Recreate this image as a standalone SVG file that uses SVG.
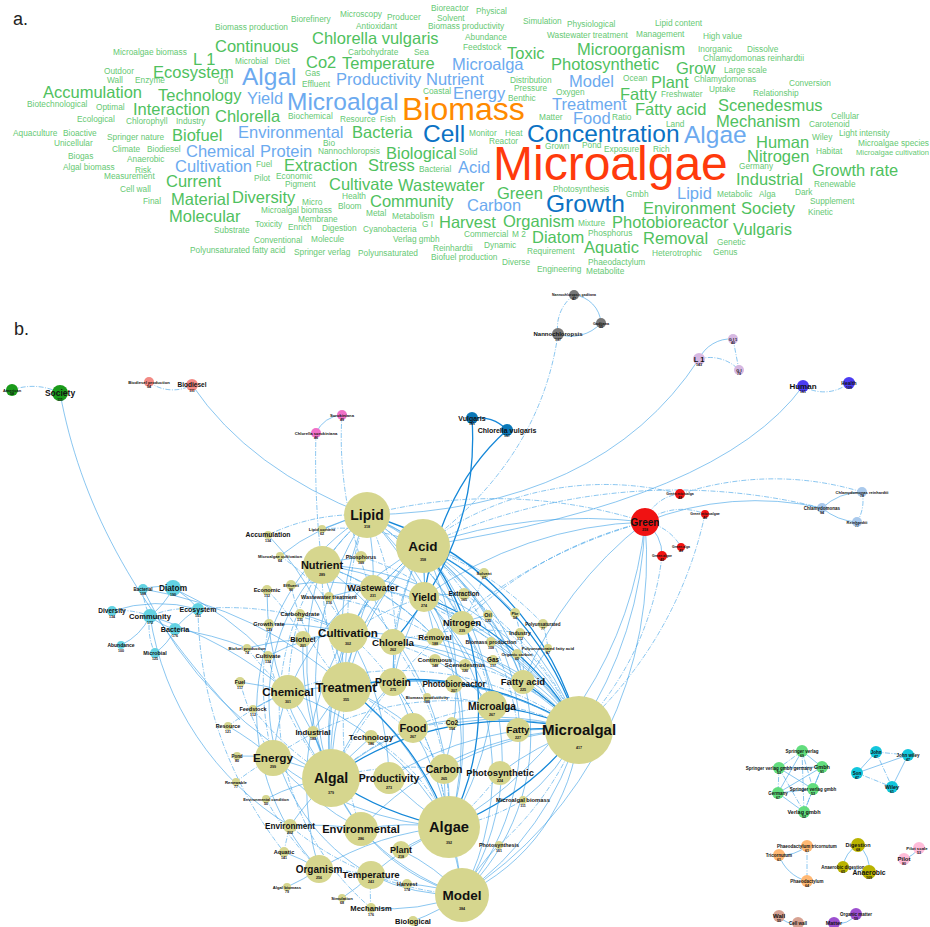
<svg xmlns="http://www.w3.org/2000/svg" width="930" height="927" viewBox="0 0 930 927">
<style>
text{font-family:"Liberation Sans",Arial,sans-serif}
.wc .s{font-size:8.3px;fill:#66c973}
.wc .m{font-size:16.5px;fill:#4fc15e}
.wc .mb{font-size:16.5px;fill:#6caaef}
.wc .lb{font-size:24.5px;fill:#6caaef}
.wc .db{font-size:24.5px;fill:#0b72c4}
.lab{font-size:18px;fill:#222}
.e{fill:none;stroke:#3a9fe6;stroke-width:.7;opacity:.85}
.d{fill:none;stroke:#3a9fe6;stroke-width:.7;stroke-dasharray:5 1.5 1 1.5;opacity:.85}
.t{fill:none;stroke:#1487d8;stroke-width:1.3}
.nodes text{font-weight:bold;fill:#111;text-anchor:middle}
.nodes .num{font-size:3.6px}
.ol{fill:#d6d68e}
.cy{fill:#63d2e2}
</style>
<rect width="930" height="927" fill="#fff"/>
<text class="lab" x="13" y="25">a.</text>
<text class="lab" x="14" y="335">b.</text>
<g class="wc" id="wordcloud">
<text class="s" x="215" y="30">Biomass production</text>
<text class="s" x="291" y="22">Biorefinery</text>
<text class="s" x="340" y="17">Microscopy</text>
<text class="s" x="387" y="20">Producer</text>
<text class="s" x="431" y="11">Bioreactor</text>
<text class="s" x="437" y="21">Solvent</text>
<text class="s" x="356" y="29">Antioxidant</text>
<text class="s" x="428" y="29">Biomass productivity</text>
<text class="s" x="476" y="14">Physical</text>
<text class="s" x="523" y="24">Simulation</text>
<text class="s" x="567" y="27">Physiological</text>
<text class="s" x="655" y="26">Lipid content</text>
<text class="s" x="465" y="40">Abundance</text>
<text class="s" x="547" y="38">Wastewater treatment</text>
<text class="s" x="636" y="37">Management</text>
<text class="s" x="703" y="39">High value</text>
<text class="s" x="463" y="50">Feedstock</text>
<text class="s" x="113" y="55">Microalgae biomass</text>
<text class="s" x="348" y="55">Carbohydrate</text>
<text class="s" x="414" y="55">Sea</text>
<text class="s" x="698" y="52">Inorganic</text>
<text class="s" x="747" y="52">Dissolve</text>
<text class="s" x="703" y="61">Chlamydomonas reinhardtii</text>
<text class="s" x="235" y="64">Microbial</text>
<text class="s" x="275" y="64">Diet</text>
<text class="s" x="104" y="74">Outdoor</text>
<text class="s" x="305" y="76">Gas</text>
<text class="s" x="724" y="73">Large scale</text>
<text class="s" x="107" y="83">Wall</text>
<text class="s" x="135" y="83">Enzyme</text>
<text class="s" x="218" y="84">Oil</text>
<text class="s" x="302" y="87">Effluent</text>
<text class="s" x="510" y="83">Distribution</text>
<text class="s" x="623" y="81">Ocean</text>
<text class="s" x="694" y="82">Chlamydomonas</text>
<text class="s" x="789" y="86">Conversion</text>
<text class="s" x="423" y="94">Coastal</text>
<text class="s" x="514" y="91">Pressure</text>
<text class="s" x="556" y="95">Oxygen</text>
<text class="s" x="661" y="97">Freshwater</text>
<text class="s" x="709" y="92">Uptake</text>
<text class="s" x="753" y="96">Relationship</text>
<text class="s" x="508" y="101">Benthic</text>
<text class="s" x="27" y="107">Biotechnological</text>
<text class="s" x="96" y="110">Optimal</text>
<text class="s" x="288" y="119">Biochemical</text>
<text class="s" x="340" y="122">Resource</text>
<text class="s" x="380" y="122">Fish</text>
<text class="s" x="539" y="120">Matter</text>
<text class="s" x="612" y="120">Ratio</text>
<text class="s" x="831" y="119">Cellular</text>
<text class="s" x="77" y="122">Ecological</text>
<text class="s" x="126" y="124">Chlorophyll</text>
<text class="s" x="176" y="124">Industry</text>
<text class="s" x="666" y="127">Land</text>
<text class="s" x="809" y="127">Carotenoid</text>
<text class="s" x="469" y="136">Monitor</text>
<text class="s" x="505" y="136">Heat</text>
<text class="s" x="13" y="136">Aquaculture</text>
<text class="s" x="63" y="136">Bioactive</text>
<text class="s" x="839" y="136">Light intensity</text>
<text class="s" x="107" y="140">Springer nature</text>
<text class="s" x="812" y="140">Wiley</text>
<text class="s" x="489" y="144">Reactor</text>
<text class="s" x="54" y="146">Unicellular</text>
<text class="s" x="858" y="146">Microalgae species</text>
<text class="s" x="323" y="146">Bio</text>
<text class="s" x="112" y="152">Climate</text>
<text class="s" x="147" y="152">Biodiesel</text>
<text class="s" x="545" y="149">Grown</text>
<text class="s" x="582" y="148">Pond</text>
<text class="s" x="604" y="152">Exposure</text>
<text class="s" x="653" y="152">Rich</text>
<text class="s" x="459" y="155">Solid</text>
<text class="s" x="816" y="154">Habitat</text>
<text class="s" x="856" y="155" style="font-size:7.6px">Microalgae cultivation</text>
<text class="s" x="318" y="154">Nannochloropsis</text>
<text class="s" x="68" y="159">Biogas</text>
<text class="s" x="127" y="162">Anaerobic</text>
<text class="s" x="739" y="169">Germany</text>
<text class="s" x="63" y="170">Algal biomass</text>
<text class="s" x="135" y="173">Risk</text>
<text class="s" x="256" y="167">Fuel</text>
<text class="s" x="419" y="172">Bacterial</text>
<text class="s" x="104" y="179">Measurement</text>
<text class="s" x="254" y="181">Pilot</text>
<text class="s" x="276" y="179">Economic</text>
<text class="s" x="285" y="187">Pigment</text>
<text class="s" x="814" y="187">Renewable</text>
<text class="s" x="553" y="192">Photosynthesis</text>
<text class="s" x="120" y="192">Cell wall</text>
<text class="s" x="342" y="199">Health</text>
<text class="s" x="626" y="197">Gmbh</text>
<text class="s" x="717" y="197">Metabolic</text>
<text class="s" x="759" y="197">Alga</text>
<text class="s" x="795" y="195">Dark</text>
<text class="s" x="810" y="204">Supplement</text>
<text class="s" x="143" y="204">Final</text>
<text class="s" x="302" y="205">Micro</text>
<text class="s" x="338" y="209">Bloom</text>
<text class="s" x="261" y="213">Microalgal biomass</text>
<text class="s" x="366" y="216">Metal</text>
<text class="s" x="392" y="219">Metabolism</text>
<text class="s" x="808" y="215">Kinetic</text>
<text class="s" x="298" y="222">Membrane</text>
<text class="s" x="422" y="227">G I</text>
<text class="s" x="578" y="226">Mixture</text>
<text class="s" x="255" y="227">Toxicity</text>
<text class="s" x="288" y="230">Enrich</text>
<text class="s" x="322" y="231">Digestion</text>
<text class="s" x="363" y="232">Cyanobacteria</text>
<text class="s" x="214" y="233">Substrate</text>
<text class="s" x="464" y="237">Commercial</text>
<text class="s" x="512" y="237">M 2</text>
<text class="s" x="588" y="236">Phosphorus</text>
<text class="s" x="254" y="243">Conventional</text>
<text class="s" x="311" y="242">Molecule</text>
<text class="s" x="393" y="242">Verlag gmbh</text>
<text class="s" x="717" y="245">Genetic</text>
<text class="s" x="484" y="248">Dynamic</text>
<text class="s" x="433" y="251">Reinhardtii</text>
<text class="s" x="527" y="254">Requirement</text>
<text class="s" x="190" y="253">Polyunsaturated fatty acid</text>
<text class="s" x="294" y="255">Springer verlag</text>
<text class="s" x="358" y="256">Polyunsaturated</text>
<text class="s" x="652" y="256">Heterotrophic</text>
<text class="s" x="713" y="255">Genus</text>
<text class="s" x="431" y="260">Biofuel production</text>
<text class="s" x="502" y="265">Diverse</text>
<text class="s" x="588" y="265">Phaeodactylum</text>
<text class="s" x="537" y="272">Engineering</text>
<text class="s" x="586" y="274">Metabolite</text>
<text class="m" x="312" y="44">Chlorella vulgaris</text>
<text class="m" x="215" y="52">Continuous</text>
<text class="m" x="193" y="65">L 1</text>
<text class="m" x="306" y="68">Co2</text>
<text class="m" x="342" y="69">Temperature</text>
<text class="m" x="153" y="78">Ecosystem</text>
<text class="m" x="43" y="98">Accumulation</text>
<text class="m" x="158" y="101">Technology</text>
<text class="m" x="133" y="115">Interaction</text>
<text class="m" x="215" y="122">Chlorella</text>
<text class="m" x="172" y="141">Biofuel</text>
<text class="m" x="352" y="138">Bacteria</text>
<text class="m" x="386" y="159">Biological</text>
<text class="m" x="284" y="171">Extraction</text>
<text class="m" x="368" y="171">Stress</text>
<text class="m" x="166" y="187">Current</text>
<text class="m" x="329" y="190">Cultivate</text>
<text class="m" x="398" y="191">Wastewater</text>
<text class="m" x="171" y="205">Material</text>
<text class="m" x="232" y="203">Diversity</text>
<text class="m" x="370" y="207">Community</text>
<text class="m" x="169" y="222">Molecular</text>
<text class="m" x="439" y="228">Harvest</text>
<text class="m" x="507" y="59">Toxic</text>
<text class="m" x="577" y="55">Microorganism</text>
<text class="m" x="551" y="70">Photosynthetic</text>
<text class="m" x="676" y="74">Grow</text>
<text class="m" x="651" y="88">Plant</text>
<text class="m" x="620" y="100">Fatty</text>
<text class="m" x="635" y="115">Fatty acid</text>
<text class="m" x="718" y="111">Scenedesmus</text>
<text class="m" x="716" y="127">Mechanism</text>
<text class="m" x="756" y="148">Human</text>
<text class="m" x="747" y="162">Nitrogen</text>
<text class="m" x="812" y="176">Growth rate</text>
<text class="m" x="736" y="185">Industrial</text>
<text class="m" x="497" y="199">Green</text>
<text class="m" x="643" y="214">Environment</text>
<text class="m" x="741" y="214">Society</text>
<text class="m" x="503" y="227">Organism</text>
<text class="m" x="612" y="228">Photobioreactor</text>
<text class="m" x="733" y="235">Vulgaris</text>
<text class="m" x="532" y="243">Diatom</text>
<text class="m" x="643" y="244">Removal</text>
<text class="m" x="584" y="253">Aquatic</text>
<text class="mb" x="452" y="70">Microalga</text>
<text class="mb" x="426" y="85">Nutrient</text>
<text class="mb" x="336" y="85">Productivity</text>
<text class="mb" x="569" y="87">Model</text>
<text class="mb" x="453" y="99">Energy</text>
<text class="mb" x="247" y="104">Yield</text>
<text class="mb" x="552" y="110">Treatment</text>
<text class="mb" x="573" y="124">Food</text>
<text class="mb" x="238" y="138">Environmental</text>
<text class="mb" x="186" y="157">Chemical</text>
<text class="mb" x="260" y="157">Protein</text>
<text class="mb" x="175" y="172">Cultivation</text>
<text class="mb" x="458" y="173">Acid</text>
<text class="mb" x="467" y="211">Carbon</text>
<text class="mb" x="677" y="199">Lipid</text>
<text class="lb" x="242" y="85">Algal</text>
<text class="lb" x="287" y="110">Microalgal</text>
<text class="lb" x="684" y="143">Algae</text>
<text class="db" x="423" y="142">Cell</text>
<text class="db" x="527" y="142">Concentration</text>
<text class="db" x="546" y="212">Growth</text>
<text x="402" y="120" font-size="32" fill="#ff8a00">Biomass</text>
<text x="493" y="180" font-size="48" fill="#ff3a0c">Microalgae</text>
</g>
<g id="connectors">
<path class="d" d="M12 390 A60 60 0 0 1 60 393"/>
<path class="e" d="M60 393 C80 500 130 600 240 720"/>
<path class="d" d="M149 382 A40 40 0 0 0 192 385"/>
<path class="e" d="M192 385 Q250 470 367 515"/>
<path class="e" d="M316 433 A30 30 0 0 1 342 415"/>
<path class="d" d="M316 433 Q314 500 322 565"/>
<path class="d" d="M342 415 Q335 520 393 642"/>
<path class="t" d="M472 418 A40 40 0 0 1 507 430"/>
<path class="t" d="M472 418 Q480 540 393 642"/>
<path class="t" d="M507 430 Q440 490 424 597"/>
<path class="e" d="M574 295 A30 30 0 0 1 601 323"/>
<path class="d" d="M574 295 A40 40 0 0 0 558 334"/>
<path class="e" d="M558 334 A40 40 0 0 0 601 323"/>
<path class="d" d="M558 334 Q540 460 423 546"/>
<path class="e" d="M699 359 A35 35 0 0 1 733 339"/>
<path class="d" d="M699 359 A40 40 0 0 1 739 370"/>
<path class="d" d="M733 339 L739 370"/>
<path class="e" d="M699 359 Q600 510 367 515"/>
<path class="d" d="M803 386 A40 40 0 0 0 849 383"/>
<path class="e" d="M803 386 Q720 500 423 546"/>
<path class="d" d="M645 522 A40 40 0 0 1 680 494"/>
<path class="d" d="M645 522 A60 60 0 0 1 705 514"/>
<path class="e" d="M645 522 A40 40 0 0 1 662 556"/>
<path class="d" d="M645 522 A50 50 0 0 1 681 547"/>
<path class="d" d="M680 494 A300 300 0 0 0 423 546"/>
<path class="d" d="M705 514 A400 400 0 0 1 579 730"/>
<path class="d" d="M662 556 A300 300 0 0 1 579 730"/>
<path class="e" d="M822 508 A300 300 0 0 0 645 522"/>
<path class="e" d="M822 508 A60 60 0 0 1 862 492"/>
<path class="e" d="M822 508 A60 60 0 0 0 857 522"/>
<path class="d" d="M862 492 A40 40 0 0 1 857 522"/>
<path class="d" d="M822 508 A600 600 0 0 0 423 546"/>
<path class="d" d="M862 492 A300 300 0 0 0 680 494"/>
<path class="e" d="M645 522 A500 500 0 0 0 423 546"/>
<path class="d" d="M645 522 A500 500 0 0 0 367 515"/>
<path class="e" d="M645 522 A400 400 0 0 0 424 597"/>
<path class="e" d="M645 522 A400 400 0 0 1 579 730"/>
<path class="e" d="M645 522 A400 400 0 0 1 449 827"/>
<path class="e" d="M645 522 A400 400 0 0 1 462 895"/>
<path class="e" d="M645 522 A400 400 0 0 0 523 682"/>
<path class="d" d="M645 522 A400 400 0 0 0 462 623"/>
<path class="d" d="M645 522 A500 500 0 0 0 331 778"/>
<path class="e" d="M367 515 A300 300 0 0 1 423 546"/>
<path class="e" d="M367 515 A300 300 0 0 0 322 565"/>
<path class="e" d="M367 515 A300 300 0 0 1 373 588"/>
<path class="e" d="M367 515 A300 300 0 0 1 424 597"/>
<path class="d" d="M367 515 A300 300 0 0 0 348 633"/>
<path class="e" d="M367 515 A300 300 0 0 0 346 687"/>
<path class="t" d="M367 515 A300 300 0 0 1 579 730"/>
<path class="e" d="M367 515 A300 300 0 0 0 331 778"/>
<path class="e" d="M367 515 A300 300 0 0 1 449 827"/>
<path class="e" d="M367 515 A240 240 0 0 1 462 895"/>
<path class="d" d="M367 515 A300 300 0 0 1 393 682"/>
<path class="e" d="M367 515 A300 300 0 0 1 523 682"/>
<path class="e" d="M367 515 A300 300 0 0 1 462 623"/>
<path class="d" d="M367 515 A300 300 0 0 1 492 706"/>
<path class="e" d="M367 515 A230 230 0 0 0 319 869"/>
<path class="d" d="M367 515 A260 260 0 0 0 371 908"/>
<path class="e" d="M423 546 A300 300 0 0 1 424 597"/>
<path class="t" d="M423 546 A300 300 0 0 1 579 730"/>
<path class="t" d="M423 546 A260 260 0 0 1 449 827"/>
<path class="e" d="M423 546 A220 220 0 0 1 462 895"/>
<path class="e" d="M423 546 A300 300 0 0 0 346 687"/>
<path class="e" d="M423 546 A300 300 0 0 0 331 778"/>
<path class="e" d="M423 546 A300 300 0 0 1 523 682"/>
<path class="d" d="M423 546 A300 300 0 0 1 518 730"/>
<path class="e" d="M423 546 A300 300 0 0 1 492 706"/>
<path class="e" d="M423 546 A300 300 0 0 0 393 682"/>
<path class="d" d="M423 546 A300 300 0 0 0 348 633"/>
<path class="e" d="M423 546 A300 300 0 0 1 462 623"/>
<path class="e" d="M423 546 A300 300 0 0 0 435 637"/>
<path class="e" d="M423 546 A300 300 0 0 1 444 769"/>
<path class="d" d="M423 546 A300 300 0 0 0 393 642"/>
<path class="e" d="M423 546 A300 300 0 0 0 319 869"/>
<path class="e" d="M423 546 A300 300 0 0 0 288 692"/>
<path class="e" d="M322 565 A300 300 0 0 1 373 588"/>
<path class="e" d="M322 565 A300 300 0 0 0 348 633"/>
<path class="d" d="M322 565 A300 300 0 0 0 346 687"/>
<path class="e" d="M322 565 A300 300 0 0 0 331 778"/>
<path class="e" d="M322 565 A300 300 0 0 1 449 827"/>
<path class="e" d="M322 565 A300 300 0 0 1 462 623"/>
<path class="e" d="M322 565 A300 300 0 0 1 579 730"/>
<path class="d" d="M322 565 A300 300 0 0 1 435 637"/>
<path class="e" d="M322 565 A200 200 0 0 0 371 875"/>
<path class="e" d="M373 588 A300 300 0 0 0 346 687"/>
<path class="e" d="M373 588 A300 300 0 0 1 435 637"/>
<path class="d" d="M373 588 A300 300 0 0 1 462 623"/>
<path class="e" d="M373 588 A300 300 0 0 0 331 778"/>
<path class="e" d="M373 588 A300 300 0 0 1 579 730"/>
<path class="t" d="M424 597 A300 300 0 0 1 579 730"/>
<path class="e" d="M424 597 A300 300 0 0 0 393 682"/>
<path class="e" d="M424 597 A300 300 0 0 1 449 827"/>
<path class="d" d="M424 597 A300 300 0 0 0 348 633"/>
<path class="e" d="M424 597 A300 300 0 0 1 492 706"/>
<path class="e" d="M424 597 A260 260 0 0 1 462 895"/>
<path class="e" d="M348 633 A300 300 0 0 0 346 687"/>
<path class="e" d="M348 633 A300 300 0 0 0 331 778"/>
<path class="e" d="M348 633 A300 300 0 0 1 579 730"/>
<path class="d" d="M348 633 A300 300 0 0 1 449 827"/>
<path class="e" d="M348 633 A300 300 0 0 1 389 778"/>
<path class="e" d="M348 633 A300 300 0 0 1 393 642"/>
<path class="e" d="M348 633 A300 300 0 0 0 303 639"/>
<path class="e" d="M393 642 A300 300 0 0 1 579 730"/>
<path class="d" d="M393 642 A300 300 0 0 1 449 827"/>
<path class="e" d="M393 642 A300 300 0 0 1 393 682"/>
<path class="t" d="M346 687 A300 300 0 0 1 579 730"/>
<path class="t" d="M346 687 A300 300 0 0 1 449 827"/>
<path class="e" d="M346 687 A300 300 0 0 0 331 778"/>
<path class="e" d="M346 687 A300 300 0 0 1 462 895"/>
<path class="d" d="M346 687 A300 300 0 0 1 444 769"/>
<path class="e" d="M346 687 A300 300 0 0 1 413 728"/>
<path class="e" d="M346 687 A300 300 0 0 0 288 692"/>
<path class="d" d="M346 687 A300 300 0 0 0 361 829"/>
<path class="e" d="M288 692 A300 300 0 0 1 331 778"/>
<path class="e" d="M288 692 A300 300 0 0 0 273 758"/>
<path class="e" d="M288 692 A300 300 0 0 1 449 827"/>
<path class="d" d="M288 692 A300 300 0 0 1 579 730"/>
<path class="e" d="M393 682 A300 300 0 0 1 579 730"/>
<path class="e" d="M393 682 A300 300 0 0 1 413 728"/>
<path class="d" d="M393 682 A300 300 0 0 1 449 827"/>
<path class="e" d="M393 682 A300 300 0 0 0 331 778"/>
<path class="t" d="M492 706 A300 300 0 0 1 579 730"/>
<path class="e" d="M492 706 A300 300 0 0 1 449 827"/>
<path class="d" d="M492 706 A300 300 0 0 0 331 778"/>
<path class="e" d="M413 728 A300 300 0 0 0 331 778"/>
<path class="e" d="M413 728 A300 300 0 0 1 579 730"/>
<path class="e" d="M413 728 A300 300 0 0 1 449 827"/>
<path class="t" d="M518 730 A300 300 0 0 1 579 730"/>
<path class="t" d="M523 682 A300 300 0 0 1 579 730"/>
<path class="e" d="M273 758 A300 300 0 0 1 331 778"/>
<path class="e" d="M273 758 A300 300 0 0 0 449 827"/>
<path class="d" d="M273 758 A300 300 0 0 1 579 730"/>
<path class="e" d="M273 758 A300 300 0 0 0 361 829"/>
<path class="t" d="M331 778 A300 300 0 0 0 449 827"/>
<path class="t" d="M331 778 A300 300 0 0 1 579 730"/>
<path class="e" d="M331 778 A200 200 0 0 0 462 895"/>
<path class="e" d="M331 778 A300 300 0 0 1 389 778"/>
<path class="e" d="M331 778 A300 300 0 0 0 361 829"/>
<path class="d" d="M331 778 A300 300 0 0 1 444 769"/>
<path class="e" d="M389 778 A300 300 0 0 1 579 730"/>
<path class="e" d="M389 778 A300 300 0 0 0 449 827"/>
<path class="e" d="M444 769 A300 300 0 0 1 579 730"/>
<path class="e" d="M444 769 A300 300 0 0 0 449 827"/>
<path class="e" d="M500 773 A300 300 0 0 1 579 730"/>
<path class="d" d="M500 773 A300 300 0 0 1 449 827"/>
<path class="e" d="M361 829 A300 300 0 0 1 449 827"/>
<path class="e" d="M361 829 A300 300 0 0 1 579 730"/>
<path class="e" d="M361 829 A250 250 0 0 0 462 895"/>
<path class="t" d="M449 827 A300 300 0 0 0 579 730"/>
<path class="e" d="M449 827 A300 300 0 0 1 462 895"/>
<path class="e" d="M462 895 A300 300 0 0 0 579 730"/>
<path class="e" d="M462 895 A200 200 0 0 0 579 730"/>
<path class="e" d="M319 869 A300 300 0 0 1 449 827"/>
<path class="e" d="M371 875 A300 300 0 0 1 449 827"/>
<path class="d" d="M319 869 A300 300 0 0 1 371 875"/>
<path class="e" d="M401 850 A300 300 0 0 1 449 827"/>
<path class="e" d="M371 875 A200 200 0 0 0 462 895"/>
<path class="e" d="M290 826 A300 300 0 0 1 361 829"/>
<path class="d" d="M290 826 A300 300 0 0 0 462 895"/>
<path class="e" d="M290 826 A300 300 0 0 1 331 778"/>
<path class="e" d="M313 732 A300 300 0 0 1 331 778"/>
<path class="e" d="M371 737 A300 300 0 0 0 331 778"/>
<path class="e" d="M452 723 A300 300 0 0 1 579 730"/>
<path class="e" d="M462 623 A300 300 0 0 1 579 730"/>
<path class="e" d="M462 623 A250 250 0 0 1 462 895"/>
<path class="e" d="M435 637 A300 300 0 0 1 579 730"/>
<path class="d" d="M454 684 A300 300 0 0 1 579 730"/>
<path class="e" d="M303 639 A300 300 0 0 0 331 778"/>
<path class="e" d="M322 529 A200 200 0 0 1 367 515"/>
<path class="d" d="M322 529 A200 200 0 0 1 423 546"/>
<path class="d" d="M268 535 A200 200 0 0 1 367 515"/>
<path class="e" d="M268 535 A300 300 0 0 1 346 687"/>
<path class="d" d="M280 556 A200 200 0 0 1 348 633"/>
<path class="e" d="M280 556 A200 200 0 0 1 367 515"/>
<path class="d" d="M361 557 A200 200 0 0 1 462 623"/>
<path class="e" d="M361 557 A200 200 0 0 0 322 565"/>
<path class="e" d="M484 573 A200 200 0 0 0 423 546"/>
<path class="d" d="M484 573 A200 200 0 0 1 462 623"/>
<path class="e" d="M291 585 A200 200 0 0 1 373 588"/>
<path class="d" d="M291 585 A200 200 0 0 0 346 687"/>
<path class="d" d="M267 590 A200 200 0 0 1 303 639"/>
<path class="e" d="M267 590 A300 300 0 0 0 331 778"/>
<path class="e" d="M329 597 A200 200 0 0 1 373 588"/>
<path class="d" d="M329 597 A300 300 0 0 1 435 637"/>
<path class="e" d="M464 594 A200 200 0 0 0 424 597"/>
<path class="d" d="M464 594 A300 300 0 0 1 579 730"/>
<path class="e" d="M300 614 A200 200 0 0 1 348 633"/>
<path class="d" d="M300 614 A300 300 0 0 0 288 692"/>
<path class="e" d="M488 615 A200 200 0 0 0 462 623"/>
<path class="d" d="M488 615 A300 300 0 0 1 579 730"/>
<path class="d" d="M515 613 A200 200 0 0 1 523 682"/>
<path class="e" d="M515 613 A300 300 0 0 0 423 546"/>
<path class="d" d="M543 624 A200 200 0 0 1 548 648"/>
<path class="d" d="M543 624 A300 300 0 0 0 423 546"/>
<path class="e" d="M269 624 A300 300 0 0 1 348 633"/>
<path class="d" d="M269 624 A300 300 0 0 0 273 758"/>
<path class="e" d="M520 633 A300 300 0 0 1 579 730"/>
<path class="d" d="M520 633 A300 300 0 0 0 393 642"/>
<path class="e" d="M491 642 A300 300 0 0 1 579 730"/>
<path class="d" d="M491 642 A300 300 0 0 0 424 597"/>
<path class="e" d="M548 648 A200 200 0 0 1 523 682"/>
<path class="e" d="M247 648 A300 300 0 0 1 303 639"/>
<path class="d" d="M247 648 A300 300 0 0 0 288 692"/>
<path class="d" d="M517 654 A200 200 0 0 1 523 682"/>
<path class="e" d="M268 656 A200 200 0 0 1 348 633"/>
<path class="d" d="M268 656 A300 300 0 0 0 331 778"/>
<path class="e" d="M435 660 A200 200 0 0 1 492 706"/>
<path class="d" d="M435 660 A300 300 0 0 0 348 633"/>
<path class="e" d="M493 660 A200 200 0 0 1 579 730"/>
<path class="d" d="M465 665 A200 200 0 0 1 579 730"/>
<path class="e" d="M465 665 A200 200 0 0 0 393 642"/>
<path class="e" d="M240 682 A300 300 0 0 1 288 692"/>
<path class="d" d="M240 682 A300 300 0 0 0 273 758"/>
<path class="e" d="M454 684 A200 200 0 0 0 393 682"/>
<path class="d" d="M427 697 A200 200 0 0 1 492 706"/>
<path class="e" d="M253 709 A200 200 0 0 1 288 692"/>
<path class="d" d="M253 709 A300 300 0 0 0 331 778"/>
<path class="e" d="M228 726 A300 300 0 0 1 273 758"/>
<path class="d" d="M228 726 A300 300 0 0 1 288 692"/>
<path class="e" d="M313 732 A200 200 0 0 1 346 687"/>
<path class="d" d="M452 723 A200 200 0 0 0 413 728"/>
<path class="d" d="M371 737 A200 200 0 0 1 449 827"/>
<path class="e" d="M237 756 A200 200 0 0 1 273 758"/>
<path class="d" d="M236 782 A200 200 0 0 1 273 758"/>
<path class="e" d="M266 799 A200 200 0 0 1 331 778"/>
<path class="d" d="M266 799 A300 300 0 0 0 319 869"/>
<path class="e" d="M523 800 A200 200 0 0 0 579 730"/>
<path class="d" d="M523 800 A200 200 0 0 1 449 827"/>
<path class="e" d="M499 845 A200 200 0 0 0 462 895"/>
<path class="d" d="M499 845 A300 300 0 0 0 579 730"/>
<path class="e" d="M401 850 A200 200 0 0 1 462 895"/>
<path class="e" d="M284 852 A200 200 0 0 1 319 869"/>
<path class="d" d="M284 852 A300 300 0 0 1 290 826"/>
<path class="e" d="M407 884 A200 200 0 0 1 462 895"/>
<path class="d" d="M407 884 A200 200 0 0 0 371 875"/>
<path class="e" d="M287 887 A200 200 0 0 0 319 869"/>
<path class="e" d="M342 898 A200 200 0 0 0 371 875"/>
<path class="e" d="M371 908 A200 200 0 0 0 462 895"/>
<path class="d" d="M371 908 A200 200 0 0 1 371 875"/>
<path class="e" d="M413 921 A200 200 0 0 0 462 895"/>
<path class="e" d="M143 589 A60 60 0 0 1 173 588"/>
<path class="d" d="M143 589 A60 60 0 0 0 150 616"/>
<path class="e" d="M173 588 A80 80 0 0 1 150 616"/>
<path class="e" d="M173 588 A80 80 0 0 1 198 609"/>
<path class="d" d="M150 616 A100 100 0 0 1 198 609"/>
<path class="e" d="M150 616 A60 60 0 0 0 175 629"/>
<path class="d" d="M112 611 A80 80 0 0 1 150 616"/>
<path class="e" d="M112 611 A150 150 0 0 1 198 609"/>
<path class="e" d="M150 616 A60 60 0 0 1 121 645"/>
<path class="d" d="M150 616 A60 60 0 0 0 155 653"/>
<path class="e" d="M175 629 A60 60 0 0 1 155 653"/>
<path class="e" d="M175 629 A80 80 0 0 1 198 609"/>
<path class="e" d="M143 589 A400 400 0 0 1 346 687"/>
<path class="e" d="M173 588 A300 300 0 0 1 268 656"/>
<path class="d" d="M198 609 A300 300 0 0 1 348 633"/>
<path class="e" d="M150 616 A400 400 0 0 1 288 692"/>
<path class="e" d="M175 629 A300 300 0 0 1 247 648"/>
<path class="d" d="M198 609 A400 400 0 0 0 284 852"/>
<path class="e" d="M150 616 A300 300 0 0 0 290 826"/>
<path class="e" d="M143 589 A400 400 0 0 0 331 778"/>
<path class="d" d="M802 751 L779 768"/><path class="e" d="M802 751 L822 767"/><path class="d" d="M802 751 L813 789"/><path class="e" d="M802 751 L778 793"/><path class="d" d="M802 751 L804 812"/>
<path class="e" d="M779 768 L822 767"/><path class="d" d="M779 768 L778 793"/><path class="e" d="M779 768 L813 789"/><path class="d" d="M779 768 L804 812"/><path class="e" d="M822 767 L813 789"/>
<path class="d" d="M822 767 L804 812"/><path class="e" d="M822 767 L778 793"/><path class="e" d="M813 789 L778 793"/><path class="d" d="M813 789 L804 812"/><path class="e" d="M778 793 L804 812"/>
<path class="d" d="M876 752 L908 755"/><path class="e" d="M876 752 L857 773"/><path class="d" d="M876 752 L892 787"/><path class="e" d="M908 755 L857 773"/><path class="e" d="M908 755 L892 787"/><path class="d" d="M857 773 L892 787"/>
<path class="e" d="M807 846 A40 40 0 0 1 779 855"/><path class="d" d="M807 846 L807 881"/><path class="e" d="M779 855 A40 40 0 0 0 807 881"/>
<path class="e" d="M858 845 A30 30 0 0 0 843 867"/><path class="e" d="M858 845 A30 30 0 0 1 869 872"/><path class="d" d="M843 867 L869 872"/>
<path class="e" d="M904 859 A30 30 0 0 0 919 848"/>
<path class="e" d="M779 916 A20 20 0 0 0 798 923"/>
<path class="e" d="M856 914 A20 20 0 0 1 834 923"/>
</g>
<g class="nodes" id="nodes">
<g id="n-american"><circle cx="12" cy="390" r="6" fill="#1a9a1a"/><text x="12" y="391.5" font-size="4">American</text><text class="num" x="12" y="395">58</text></g>
<g id="n-society"><circle cx="60" cy="393" r="8" fill="#1a9a1a"/><text x="60" y="396" font-size="8.5">Society</text><text class="num" x="60" y="401">111</text></g>
<g id="n-biodiesel-production"><circle cx="149" cy="382" r="5" fill="#f28a84"/><text x="149" y="383.5" font-size="4.2">Biodiesel production</text><text class="num" x="149" y="388">54</text></g>
<g id="n-biodiesel"><circle cx="192" cy="385" r="6" fill="#f28a84"/><text x="192" y="387" font-size="6.5">Biodiesel</text><text class="num" x="192" y="392">111</text></g>
<g id="n-sorokiniana"><circle cx="342" cy="415" r="5" fill="#f070c8"/><text x="342" y="416.5" font-size="4.2">Sorokiniana</text><text class="num" x="342" y="421">49</text></g>
<g id="n-chlorella-sorokiniana"><circle cx="316" cy="433" r="5" fill="#f070c8"/><text x="316" y="434.5" font-size="4.2">Chlorella sorokiniana</text><text class="num" x="316" y="439">46</text></g>
<g id="n-vulgaris"><circle cx="472" cy="418" r="6" fill="#0a78b8"/><text x="472" y="420.5" font-size="7">Vulgaris</text><text class="num" x="472" y="425">161</text></g>
<g id="n-chlorella-vulgaris"><circle cx="507" cy="430" r="6" fill="#0a78b8"/><text x="507" y="432.5" font-size="7">Chlorella vulgaris</text><text class="num" x="507" y="437">157</text></g>
<g id="n-nannochloropsis-gaditana"><circle cx="574" cy="295" r="5" fill="#777"/><text x="574" y="296" font-size="3.5">Nannochloropsis gaditana</text><text class="num" x="574" y="300">47</text></g>
<g id="n-gaditana"><circle cx="601" cy="323" r="5" fill="#777"/><text x="601" y="324.5" font-size="3.8">Gaditana</text><text class="num" x="601" y="328">55</text></g>
<g id="n-nannochloropsis"><circle cx="558" cy="334" r="6" fill="#777"/><text x="558" y="336" font-size="6">Nannochloropsis</text><text class="num" x="558" y="341">137</text></g>
<g id="n-gi1"><circle cx="733" cy="339" r="5" fill="#d6b8e2"/><text x="733" y="340.5" font-size="4">G I 1</text><text class="num" x="733" y="344">40</text></g>
<g id="n-l1"><circle cx="699" cy="359" r="6" fill="#d6b8e2"/><text x="699" y="361.5" font-size="7.5">L 1</text><text class="num" x="699" y="366">143</text></g>
<g id="n-gi"><circle cx="739" cy="370" r="5" fill="#d6b8e2"/><text x="739" y="371.5" font-size="4">G I</text><text class="num" x="739" y="375">79</text></g>
<g id="n-human"><circle cx="803" cy="386" r="6" fill="#4b3cf2"/><text x="803" y="388.5" font-size="8">Human</text><text class="num" x="803" y="393">161</text></g>
<g id="n-health"><circle cx="849" cy="383" r="6" fill="#4b3cf2"/><text x="849" y="385" font-size="5">Health</text><text class="num" x="849" y="389">109</text></g>
<g id="n-green"><circle cx="645" cy="522" r="14" fill="#f01212"/><text x="645" y="525.5" font-size="10">Green</text><text class="num" x="645" y="531">258</text></g>
<g id="n-green-microalga"><circle cx="680" cy="494" r="5" fill="#f01212"/><text x="680" y="495" font-size="3.5">Green microalga</text><text class="num" x="680" y="499">48</text></g>
<g id="n-green-microalgae"><circle cx="705" cy="514" r="4" fill="#f01212"/><text x="705" y="515" font-size="3.5">Green microalgae</text><text class="num" x="705" y="519">46</text></g>
<g id="n-green-algae"><circle cx="662" cy="556" r="5" fill="#f01212"/><text x="662" y="557" font-size="3.5">Green algae</text><text class="num" x="662" y="561">45</text></g>
<g id="n-green-alga"><circle cx="681" cy="547" r="4" fill="#f01212"/><text x="681" y="548" font-size="3.5">Green alga</text><text class="num" x="681" y="552">49</text></g>
<g id="n-chlamydomonas-reinhardtii"><circle cx="862" cy="492" r="5" fill="#a9c9ec"/><text x="862" y="493.5" font-size="4">Chlamydomonas reinhardtii</text><text class="num" x="862" y="497">78</text></g>
<g id="n-chlamydomonas"><circle cx="822" cy="508" r="5" fill="#a9c9ec"/><text x="822" y="509.5" font-size="4.5">Chlamydomonas</text><text class="num" x="822" y="514">94</text></g>
<g id="n-reinhardtii"><circle cx="857" cy="522" r="5" fill="#a9c9ec"/><text x="857" y="523.5" font-size="4">Reinhardtii</text><text class="num" x="857" y="527">77</text></g>
<g id="n-bacterial"><circle class="cy" cx="143" cy="589" r="5"/><text x="143" y="590.5" font-size="4.5">Bacterial</text><text class="num" x="143" y="595">108</text></g>
<g id="n-diatom"><circle class="cy" cx="173" cy="588" r="8"/><text x="173" y="591" font-size="8.3">Diatom</text><text class="num" x="173" y="596">190</text></g>
<g id="n-diversity"><circle class="cy" cx="112" cy="611" r="5"/><text x="112" y="613" font-size="6.5">Diversity</text><text class="num" x="112" y="618">134</text></g>
<g id="n-community"><circle class="cy" cx="150" cy="616" r="7"/><text x="150" y="618.5" font-size="7.6">Community</text><text class="num" x="150" y="624">172</text></g>
<g id="n-ecosystem"><circle class="cy" cx="198" cy="609" r="6"/><text x="198" y="611.5" font-size="7">Ecosystem</text><text class="num" x="198" y="617">151</text></g>
<g id="n-bacteria"><circle class="cy" cx="175" cy="629" r="6"/><text x="175" y="631.5" font-size="7.2">Bacteria</text><text class="num" x="175" y="637">176</text></g>
<g id="n-abundance"><circle class="cy" cx="121" cy="645" r="4"/><text x="121" y="647" font-size="5">Abundance</text><text class="num" x="121" y="652">100</text></g>
<g id="n-microbial"><circle class="cy" cx="155" cy="653" r="5"/><text x="155" y="655" font-size="5.4">Microbial</text><text class="num" x="155" y="660">125</text></g>
<g id="n-lipid"><circle class="ol" cx="367" cy="515" r="23"/><text x="367" y="520" font-size="14">Lipid</text><text class="num" x="367" y="528">318</text></g>
<g id="n-acid"><circle class="ol" cx="423" cy="546" r="27"/><text x="423" y="551" font-size="13.5">Acid</text><text class="num" x="423" y="561">358</text></g>
<g id="n-lipid-content"><circle class="ol" cx="322" cy="529" r="4"/><text x="322" y="530.5" font-size="4.2">Lipid content</text><text class="num" x="322" y="535">62</text></g>
<g id="n-accumulation"><circle class="ol" cx="268" cy="535" r="4"/><text x="268" y="537" font-size="6.8">Accumulation</text><text class="num" x="268" y="542">134</text></g>
<g id="n-microalgae-cultivation"><circle class="ol" cx="280" cy="556" r="4"/><text x="280" y="557.5" font-size="4.2">Microalgae cultivation</text><text class="num" x="280" y="562">64</text></g>
<g id="n-nutrient"><circle class="ol" cx="322" cy="565" r="19"/><text x="322" y="569" font-size="11">Nutrient</text><text class="num" x="322" y="576">289</text></g>
<g id="n-phosphorus"><circle class="ol" cx="361" cy="557" r="6"/><text x="361" y="559" font-size="5.2">Phosphorus</text><text class="num" x="361" y="564">109</text></g>
<g id="n-solvent"><circle class="ol" cx="484" cy="573" r="5"/><text x="484" y="574.5" font-size="4.2">Solvent</text><text class="num" x="484" y="579">67</text></g>
<g id="n-effluent"><circle class="ol" cx="291" cy="585" r="5"/><text x="291" y="586.5" font-size="4.2">Effluent</text><text class="num" x="291" y="591">90</text></g>
<g id="n-economic"><circle class="ol" cx="267" cy="590" r="5"/><text x="267" y="592" font-size="5.6">Economic</text><text class="num" x="267" y="597">112</text></g>
<g id="n-wastewater"><circle class="ol" cx="373" cy="588" r="13"/><text x="373" y="591" font-size="9.3">Wastewater</text><text class="num" x="373" y="597">231</text></g>
<g id="n-wastewater-treatment"><circle class="ol" cx="329" cy="597" r="5"/><text x="329" y="599" font-size="5.4">Wastewater treatment</text><text class="num" x="329" y="604">116</text></g>
<g id="n-yield"><circle class="ol" cx="424" cy="597" r="15"/><text x="424" y="601" font-size="10.7">Yield</text><text class="num" x="424" y="607">274</text></g>
<g id="n-extraction"><circle class="ol" cx="464" cy="594" r="6"/><text x="464" y="596" font-size="6.3">Extraction</text><text class="num" x="464" y="601">165</text></g>
<g id="n-carbohydrate"><circle class="ol" cx="300" cy="614" r="5"/><text x="300" y="616" font-size="6">Carbohydrate</text><text class="num" x="300" y="621">131</text></g>
<g id="n-oil"><circle class="ol" cx="488" cy="615" r="5"/><text x="488" y="617" font-size="5.5">Oil</text><text class="num" x="488" y="622">125</text></g>
<g id="n-pbr"><circle class="ol" cx="515" cy="613" r="5"/><text x="515" y="614.5" font-size="4.2">Pbr</text><text class="num" x="515" y="619">54</text></g>
<g id="n-nitrogen"><circle class="ol" cx="462" cy="623" r="12"/><text x="462" y="626" font-size="9.3">Nitrogen</text><text class="num" x="462" y="632">239</text></g>
<g id="n-polyunsaturated"><circle class="ol" cx="543" cy="624" r="5"/><text x="543" y="625.5" font-size="4.5">Polyunsaturated</text><text class="num" x="543" y="630">77</text></g>
<g id="n-growth-rate"><circle class="ol" cx="269" cy="624" r="5"/><text x="269" y="626" font-size="5.6">Growth rate</text><text class="num" x="269" y="631">129</text></g>
<g id="n-cultivation"><circle class="ol" cx="348" cy="633" r="20"/><text x="348" y="637" font-size="11.6">Cultivation</text><text class="num" x="348" y="645">302</text></g>
<g id="n-chlorella"><circle class="ol" cx="393" cy="642" r="13"/><text x="393" y="645.5" font-size="9.8">Chlorella</text><text class="num" x="393" y="651">262</text></g>
<g id="n-removal"><circle class="ol" cx="435" cy="637" r="9"/><text x="435" y="640" font-size="8">Removal</text><text class="num" x="435" y="645">188</text></g>
<g id="n-industry"><circle class="ol" cx="520" cy="633" r="5"/><text x="520" y="635" font-size="5.4">Industry</text><text class="num" x="520" y="640">112</text></g>
<g id="n-biofuel"><circle class="ol" cx="303" cy="639" r="8"/><text x="303" y="641.5" font-size="7.5">Biofuel</text><text class="num" x="303" y="647">201</text></g>
<g id="n-biomass-production"><circle class="ol" cx="491" cy="642" r="5"/><text x="491" y="644" font-size="5.3">Biomass production</text><text class="num" x="491" y="649">108</text></g>
<g id="n-pufa"><circle class="ol" cx="548" cy="648" r="4"/><text x="548" y="649.5" font-size="4.2">Polyunsaturated fatty acid</text><text class="num" x="548" y="654">67</text></g>
<g id="n-biofuel-production"><circle class="ol" cx="247" cy="648" r="4"/><text x="247" y="649.5" font-size="4.2">Biofuel production</text><text class="num" x="247" y="654">74</text></g>
<g id="n-organic-carbon"><circle class="ol" cx="517" cy="654" r="5"/><text x="517" y="655.5" font-size="4.2">Organic carbon</text><text class="num" x="517" y="660">65</text></g>
<g id="n-cultivate"><circle class="ol" cx="268" cy="656" r="5"/><text x="268" y="658" font-size="5.9">Cultivate</text><text class="num" x="268" y="663">134</text></g>
<g id="n-continuous"><circle class="ol" cx="435" cy="660" r="6"/><text x="435" y="662" font-size="6.2">Continuous</text><text class="num" x="435" y="667">148</text></g>
<g id="n-gas"><circle class="ol" cx="493" cy="660" r="5"/><text x="493" y="662" font-size="6.3">Gas</text><text class="num" x="493" y="667">117</text></g>
<g id="n-scenedesmus"><circle class="ol" cx="465" cy="665" r="6"/><text x="465" y="667" font-size="6">Scenedesmus</text><text class="num" x="465" y="672">120</text></g>
<g id="n-fuel"><circle class="ol" cx="240" cy="682" r="5"/><text x="240" y="684" font-size="5">Fuel</text><text class="num" x="240" y="689">117</text></g>
<g id="n-protein"><circle class="ol" cx="393" cy="682" r="14"/><text x="393" y="685.5" font-size="10.4">Protein</text><text class="num" x="393" y="691">275</text></g>
<g id="n-fatty-acid"><circle class="ol" cx="523" cy="682" r="12"/><text x="523" y="685" font-size="9.5">Fatty acid</text><text class="num" x="523" y="691">225</text></g>
<g id="n-treatment"><circle class="ol" cx="346" cy="687" r="25"/><text x="346" y="691.5" font-size="12.8">Treatment</text><text class="num" x="346" y="701">355</text></g>
<g id="n-chemical"><circle class="ol" cx="288" cy="692" r="17"/><text x="288" y="696" font-size="11.6">Chemical</text><text class="num" x="288" y="703">301</text></g>
<g id="n-photobioreactor"><circle class="ol" cx="454" cy="684" r="9"/><text x="454" y="687" font-size="8.2">Photobioreactor</text><text class="num" x="454" y="692">207</text></g>
<g id="n-biomass-productivity"><circle class="ol" cx="427" cy="697" r="4"/><text x="427" y="698.5" font-size="4.2">Biomass productivity</text><text class="num" x="427" y="703">100</text></g>
<g id="n-microalga"><circle class="ol" cx="492" cy="706" r="15"/><text x="492" y="709.5" font-size="10.3">Microalga</text><text class="num" x="492" y="716">267</text></g>
<g id="n-feedstock"><circle class="ol" cx="253" cy="709" r="4"/><text x="253" y="711" font-size="5.5">Feedstock</text><text class="num" x="253" y="716">112</text></g>
<g id="n-resource"><circle class="ol" cx="228" cy="726" r="4"/><text x="228" y="728" font-size="5.4">Resource</text><text class="num" x="228" y="733">121</text></g>
<g id="n-industrial"><circle class="ol" cx="313" cy="732" r="6"/><text x="313" y="735" font-size="7.8">Industrial</text><text class="num" x="313" y="740">180</text></g>
<g id="n-food"><circle class="ol" cx="413" cy="728" r="15"/><text x="413" y="732" font-size="11">Food</text><text class="num" x="413" y="738">267</text></g>
<g id="n-co2"><circle class="ol" cx="452" cy="723" r="6"/><text x="452" y="725" font-size="6.7">Co2</text><text class="num" x="452" y="730">154</text></g>
<g id="n-fatty"><circle class="ol" cx="518" cy="730" r="12"/><text x="518" y="733" font-size="9.6">Fatty</text><text class="num" x="518" y="739">227</text></g>
<g id="n-microalgal"><circle class="ol" cx="579" cy="730" r="34"/><text x="579" y="735" font-size="15">Microalgal</text><text class="num" x="579" y="749">417</text></g>
<g id="n-technology"><circle class="ol" cx="371" cy="737" r="7"/><text x="371" y="740" font-size="8">Technology</text><text class="num" x="371" y="745">186</text></g>
<g id="n-pond"><circle class="ol" cx="237" cy="756" r="4"/><text x="237" y="757.5" font-size="4.5">Pond</text><text class="num" x="237" y="762">80</text></g>
<g id="n-energy"><circle class="ol" cx="273" cy="758" r="18"/><text x="273" y="762" font-size="11.8">Energy</text><text class="num" x="273" y="768">299</text></g>
<g id="n-algal"><circle class="ol" cx="331" cy="778" r="29"/><text x="331" y="783" font-size="14">Algal</text><text class="num" x="331" y="794">379</text></g>
<g id="n-productivity"><circle class="ol" cx="389" cy="778" r="16"/><text x="389" y="782" font-size="10.5">Productivity</text><text class="num" x="389" y="789">273</text></g>
<g id="n-carbon"><circle class="ol" cx="444" cy="769" r="15"/><text x="444" y="773" font-size="10.5">Carbon</text><text class="num" x="444" y="780">265</text></g>
<g id="n-photosynthetic"><circle class="ol" cx="500" cy="773" r="12"/><text x="500" y="776" font-size="9.4">Photosynthetic</text><text class="num" x="500" y="782">224</text></g>
<g id="n-renewable"><circle class="ol" cx="236" cy="782" r="4"/><text x="236" y="783.5" font-size="4.2">Renewable</text><text class="num" x="236" y="788">77</text></g>
<g id="n-environmental-condition"><circle class="ol" cx="266" cy="799" r="4"/><text x="266" y="800.5" font-size="3.9">Environmental condition</text><text class="num" x="266" y="805">50</text></g>
<g id="n-microalgal-biomass"><circle class="ol" cx="523" cy="800" r="4"/><text x="523" y="802" font-size="5.8">Microalgal biomass</text><text class="num" x="523" y="807">111</text></g>
<g id="n-environment"><circle class="ol" cx="290" cy="826" r="7"/><text x="290" y="829" font-size="8.2">Environment</text><text class="num" x="290" y="834">202</text></g>
<g id="n-environmental"><circle class="ol" cx="361" cy="829" r="17"/><text x="361" y="833" font-size="11.2">Environmental</text><text class="num" x="361" y="840">286</text></g>
<g id="n-algae"><circle class="ol" cx="449" cy="827" r="31"/><text x="449" y="832" font-size="14.7">Algae</text><text class="num" x="449" y="844">392</text></g>
<g id="n-photosynthesis"><circle class="ol" cx="499" cy="845" r="4"/><text x="499" y="847" font-size="5.4">Photosynthesis</text><text class="num" x="499" y="852">101</text></g>
<g id="n-plant"><circle class="ol" cx="401" cy="850" r="9"/><text x="401" y="853" font-size="9">Plant</text><text class="num" x="401" y="858">218</text></g>
<g id="n-aquatic"><circle class="ol" cx="284" cy="852" r="5"/><text x="284" y="854" font-size="5.6">Aquatic</text><text class="num" x="284" y="859">141</text></g>
<g id="n-organism"><circle class="ol" cx="319" cy="869" r="14"/><text x="319" y="872.5" font-size="10">Organism</text><text class="num" x="319" y="879">256</text></g>
<g id="n-temperature"><circle class="ol" cx="371" cy="875" r="14"/><text x="371" y="878" font-size="9.6">Temperature</text><text class="num" x="371" y="883">243</text></g>
<g id="n-harvest"><circle class="ol" cx="407" cy="884" r="5"/><text x="407" y="886" font-size="5.6">Harvest</text><text class="num" x="407" y="891">174</text></g>
<g id="n-algal-biomass"><circle class="ol" cx="287" cy="887" r="4"/><text x="287" y="888.5" font-size="4.2">Algal biomass</text><text class="num" x="287" y="893">79</text></g>
<g id="n-simulation"><circle class="ol" cx="342" cy="898" r="4"/><text x="342" y="899.5" font-size="4.2">Simulation</text><text class="num" x="342" y="904">68</text></g>
<g id="n-mechanism"><circle class="ol" cx="371" cy="908" r="5"/><text x="371" y="910.5" font-size="7.6">Mechanism</text><text class="num" x="371" y="916">176</text></g>
<g id="n-model"><circle class="ol" cx="462" cy="895" r="27"/><text x="462" y="900" font-size="13.5">Model</text><text class="num" x="462" y="910">384</text></g>
<g id="n-biological"><circle class="ol" cx="413" cy="921" r="5"/><text x="413" y="923.5" font-size="7.5">Biological</text></g>
<g id="n-springer-verlag"><circle cx="802" cy="751" r="6" fill="#62dd7e"/><text x="802" y="752.5" font-size="4.5">Springer verlag</text><text class="num" x="802" y="757">69</text></g>
<g id="n-svgg"><circle cx="779" cy="768" r="6" fill="#62dd7e"/><text x="779" y="769.5" font-size="4.5">Springer verlag gmbh germany</text><text class="num" x="779" y="774">53</text></g>
<g id="n-gmbh"><circle cx="822" cy="767" r="6" fill="#62dd7e"/><text x="822" y="769" font-size="5.5">Gmbh</text><text class="num" x="822" y="773">91</text></g>
<g id="n-svg"><circle cx="813" cy="789" r="6" fill="#62dd7e"/><text x="813" y="790.5" font-size="4.5">Springer verlag gmbh</text><text class="num" x="813" y="795">53</text></g>
<g id="n-germany"><circle cx="778" cy="793" r="6" fill="#62dd7e"/><text x="778" y="794.5" font-size="4.5">Germany</text><text class="num" x="778" y="799">67</text></g>
<g id="n-verlag-gmbh"><circle cx="804" cy="812" r="6" fill="#62dd7e"/><text x="804" y="814" font-size="5.5">Verlag gmbh</text><text class="num" x="804" y="818">52</text></g>
<g id="n-john"><circle cx="876" cy="752" r="6" fill="#12c6dc"/><text x="876" y="753.5" font-size="4.5">John</text><text class="num" x="876" y="758">47</text></g>
<g id="n-john-wiley"><circle cx="908" cy="755" r="6" fill="#12c6dc"/><text x="908" y="756.5" font-size="4.5">John wiley</text><text class="num" x="908" y="761">47</text></g>
<g id="n-son"><circle cx="857" cy="773" r="6" fill="#12c6dc"/><text x="857" y="774.5" font-size="4.5">Son</text><text class="num" x="857" y="779">47</text></g>
<g id="n-wiley"><circle cx="892" cy="787" r="6" fill="#12c6dc"/><text x="892" y="789" font-size="5.5">Wiley</text><text class="num" x="892" y="793">61</text></g>
<g id="n-phaeodactylum-tricornutum"><circle cx="807" cy="846" r="6" fill="#ffb873"/><text x="807" y="847.5" font-size="4.5">Phaeodactylum tricornutum</text><text class="num" x="807" y="852">61</text></g>
<g id="n-tricornutum"><circle cx="779" cy="855" r="6" fill="#ffb873"/><text x="779" y="856.5" font-size="4.5">Tricornutum</text><text class="num" x="779" y="861">61</text></g>
<g id="n-phaeodactylum"><circle cx="807" cy="881" r="6" fill="#ffb873"/><text x="807" y="882.5" font-size="4.5">Phaeodactylum</text><text class="num" x="807" y="887">64</text></g>
<g id="n-digestion"><circle cx="858" cy="845" r="7" fill="#b9b300"/><text x="858" y="847" font-size="5.5">Digestion</text><text class="num" x="858" y="851">68</text></g>
<g id="n-anaerobic-digestion"><circle cx="843" cy="867" r="6" fill="#b9b300"/><text x="843" y="868.5" font-size="4.5">Anaerobic digestion</text><text class="num" x="843" y="873">65</text></g>
<g id="n-anaerobic"><circle cx="869" cy="872" r="7" fill="#b9b300"/><text x="869" y="874.5" font-size="6.8">Anaerobic</text><text class="num" x="869" y="879">109</text></g>
<g id="n-pilot"><circle cx="904" cy="859" r="6" fill="#ffbcd9"/><text x="904" y="861" font-size="6">Pilot</text><text class="num" x="904" y="865">80</text></g>
<g id="n-pilot-scale"><circle cx="919" cy="848" r="6" fill="#ffbcd9"/><text x="917" y="849.5" font-size="4.3">Pilot scale</text><text class="num" x="919" y="854">53</text></g>
<g id="n-wall"><circle cx="779" cy="916" r="6" fill="#d7a292"/><text x="779" y="918" font-size="6">Wall</text><text class="num" x="779" y="922">55</text></g>
<g id="n-cell-wall"><circle cx="798" cy="923" r="6" fill="#d7a292"/><text x="798" y="924.5" font-size="4.5">Cell wall</text></g>
<g id="n-organic-matter"><circle cx="856" cy="914" r="6" fill="#9c4fcf"/><text x="856" y="915.5" font-size="4.5">Organic matter</text><text class="num" x="856" y="920">59</text></g>
<g id="n-matter"><circle cx="834" cy="923" r="6" fill="#9c4fcf"/><text x="834" y="925" font-size="5.5">Matter</text></g>
</g>
</svg>
